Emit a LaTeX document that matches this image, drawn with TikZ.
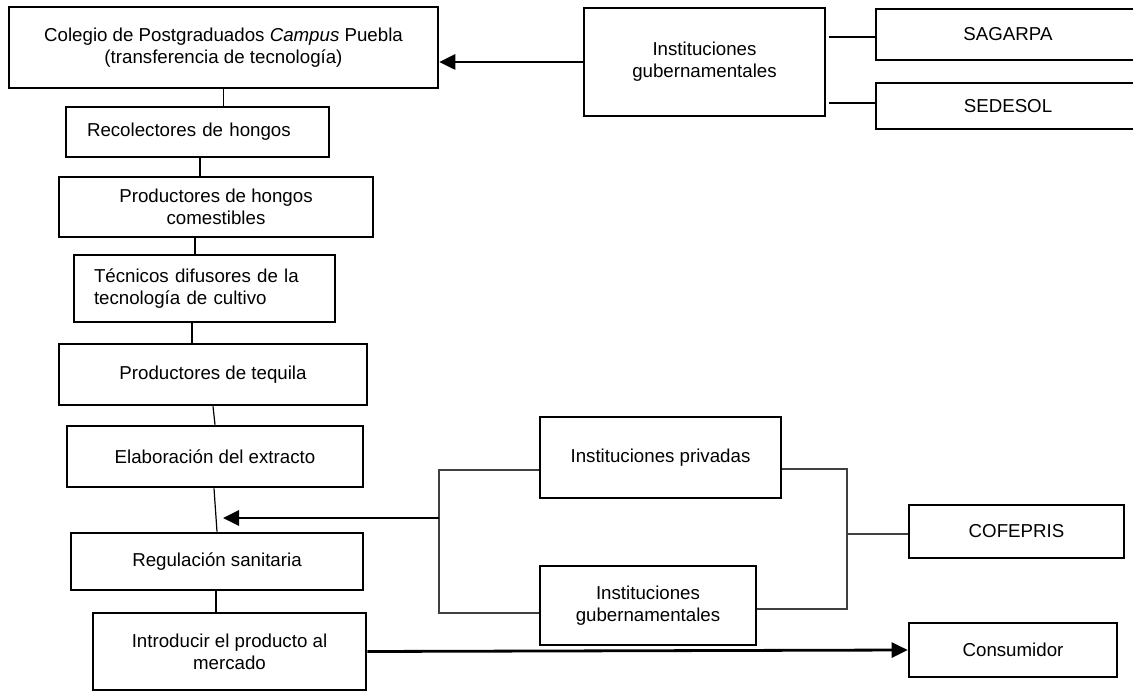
\documentclass[tikz,border=0pt]{standalone}
\usepackage{fontspec}
\setmainfont{Liberation Sans}
\usetikzlibrary{arrows.meta,calc}

\tikzset{
  box/.style={draw, rectangle, line width=2.6pt, inner sep=0pt, align=center,
    font=\fontsize{18.7}{22}\selectfont},
  thinbox/.style={box, line width=1.2pt},
  link/.style={line width=1.2pt},
  bracket/.style={line width=1.1pt, draw=black!75},
  flow/.style={line width=2.8pt, -{Triangle[length=16pt,width=15pt]}},
}

\begin{document}
\begin{tikzpicture}[x=1pt, y=-1pt]
  \useasboundingbox (0,0) rectangle (1133,692);
  \clip (0,0) rectangle (1133,692);

  % main chain (left column)
  \node[box, minimum width=429pt, minimum height=81pt] (col) at (223.5,47.5)
    {Colegio de Postgraduados \textit{Campus} Puebla\\(transferencia de tecnología)};
  \node[thinbox, minimum width=263pt, minimum height=50pt, text width=221pt,
    inner xsep=21pt, align=left] (rec) at (197.5,132) {Recolectores de hongos};
  \node[box, minimum width=314pt, minimum height=60pt] (ph) at (216,207)
    {Productores de hongos\\comestibles};
  \node[thinbox, minimum width=261pt, minimum height=67pt, text width=221pt,
    inner xsep=20pt, align=left] (tec) at (204.5,288.5)
    {Técnicos difusores de la\\tecnología de cultivo};
  \node[box, minimum width=308pt, minimum height=61pt] (pt) at (213,374.5)
    {Productores de tequila};
  \node[box, minimum width=296pt, minimum height=61pt] (el) at (215,456.5)
    {Elaboración del extracto};
  \node[box, minimum width=292pt, minimum height=57pt] (reg) at (217,561.5)
    {Regulación sanitaria};
  \node[box, minimum width=273pt, minimum height=77pt] (intro) at (229.5,651.5)
    {Introducir el producto al\\mercado};

  % government institutions (top right)
  \node[box, minimum width=241pt, minimum height=108pt] (ig) at (704.5,62)
    {Instituciones\\gubernamentales};
  \node[box, minimum width=264pt, minimum height=51pt] (sag) at (1008,34.5) {SAGARPA};
  \node[box, minimum width=264pt, minimum height=46pt] (sed) at (1008,106) {SEDESOL};

  % regulation group (lower right)
  \node[box, minimum width=241pt, minimum height=81pt] (pv) at (660.5,457.5)
    {Instituciones privadas};
  \node[box, minimum width=216pt, minimum height=79pt] (g2) at (648,605.5)
    {Instituciones\\gubernamentales};
  \node[box, minimum width=215pt, minimum height=53pt] (cof) at (1016.5,531.5) {COFEPRIS};
  \node[box, minimum width=208pt, minimum height=54pt] (cons) at (1013,650) {Consumidor};

  % chain links
  \draw[link] (col.south) -- (col.south |- rec.north);
  \draw[link] ([xshift=2.5pt]rec.south) -- ([xshift=2.5pt]rec.south |- ph.north);
  \draw[link] ([xshift=-21pt]ph.south) -- ([xshift=-21pt]ph.south |- tec.north);
  \draw[link] ([xshift=-12.5pt]tec.south) -- ([xshift=-12.5pt]tec.south |- pt.north);
  \draw[link] (pt.south) -- (el.north);
  \draw[link] ([xshift=-1pt]el.south) -- (reg.north);
  \draw[link] ([xshift=-1pt]reg.south) -- ([xshift=-1pt]reg.south |- intro.north);

  % top right links
  \draw[flow] (ig.west) -- (ig.west -| col.east);
  \draw[link] ([xshift=3pt,yshift=-2.5pt]ig.east |- sag.west) -- ([yshift=-2.5pt]sag.west);
  \draw[link] ([xshift=3pt,yshift=3pt]ig.east |- sed.west) -- ([yshift=3pt]sed.west);

  % brackets around the regulation institutions
  \coordinate (bl) at (439,518);
  \coordinate (br) at (847,534);
  \coordinate (tip) at (223,518);
  \draw[bracket] ([yshift=-12.5pt]pv.west) -| (bl) |- ([yshift=-7.5pt]g2.west);
  \draw[bracket] ([yshift=-11.5pt]pv.east) -| (br) |- ([yshift=-3.5pt]g2.east);
  \draw[bracket] (br) -- (br -| cof.west);
  \draw[flow] (bl) -- (tip);

  % to the consumer
  \draw[flow] (intro.east) -- (cons.west);
\end{tikzpicture}
\end{document}
